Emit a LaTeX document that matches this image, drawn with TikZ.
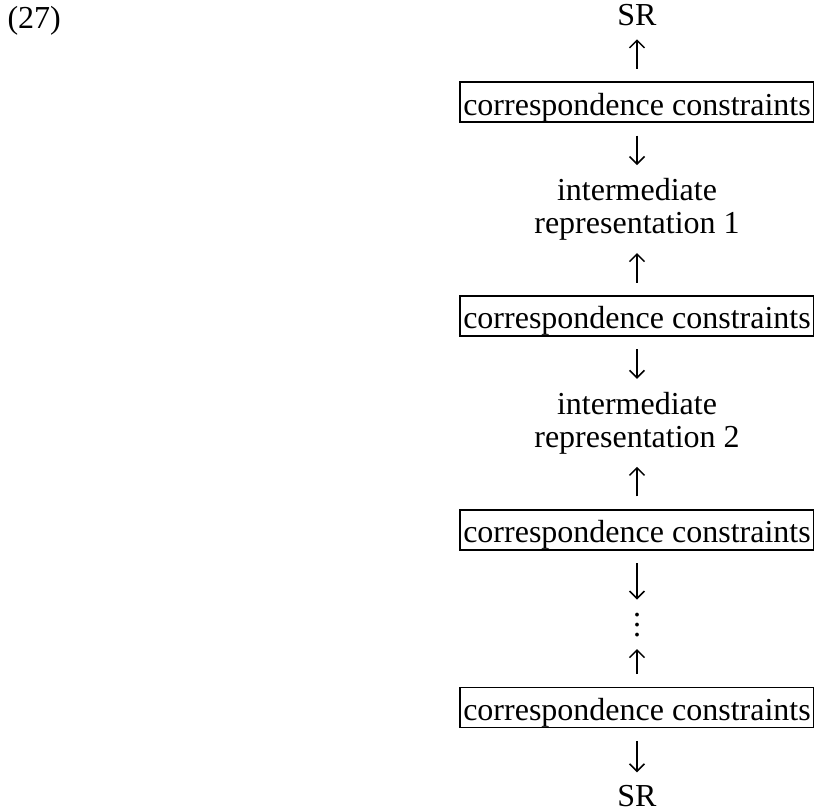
\documentclass[tikz,border=0pt]{standalone}
\usepackage{fontspec}
\setmainfont{Liberation Serif}
\usetikzlibrary{positioning}
\usetikzlibrary{arrows.meta}

\tikzset{
  lbl/.style={inner sep=0pt},
  twoline/.style={inner sep=0pt, align=center},
  ccbox/.style={draw, line width=0.7pt, inner xsep=1.2pt, inner ysep=0pt,
    text height=13.2pt, text depth=2.8pt},
  link/.style={-{Straight Barb[length=3pt,width=6pt]}, line width=0.6pt,
    shorten <=5pt, shorten >=5pt},
}

\begin{document}
\begin{tikzpicture}[x=0.4pt,y=-0.4pt,
    every node/.style={font=\fontsize{12.8}{13.2}\selectfont},
    node distance=21.8pt]
   \useasboundingbox (0,0) rectangle (814,811);

   % example number
   \node[lbl, anchor=base west] (num) at (7,29) {(27)};

   % top SR
   \node[lbl, anchor=base] (sr0) at (637,26) {SR};
   \node[ccbox, below=of sr0] (cc1) {correspondence constraints};

   % intermediate levels
   \node[twoline, below=of cc1] (im1) {intermediate\\representation 1};
   \node[ccbox, below=of im1]  (cc2) {correspondence constraints};
   \node[twoline, below=of cc2] (im2) {intermediate\\representation 2};
   \node[ccbox, below=of im2]  (cc3) {correspondence constraints};
   \node[lbl, text height=9.4pt, text depth=0pt, below=24.6pt of cc3] (dots) {\vdots};
   \node[ccbox, below=20pt of dots] (cc4) {correspondence constraints};

   % bottom SR
   \node[lbl, below=22.6pt of cc4] (sr1) {SR};

   \draw[link] (cc1) -- (sr0);
   \draw[link] (cc1) -- (im1);
   \draw[link] (cc2) -- (im1);
   \draw[link] (cc2) -- (im2);
   \draw[link] (cc3) -- (im2);
   \draw[link] (cc3) -- (dots);
   \draw[link] (cc4) -- (dots);
   \draw[link] (cc4) -- (sr1);
\end{tikzpicture}
\end{document}
